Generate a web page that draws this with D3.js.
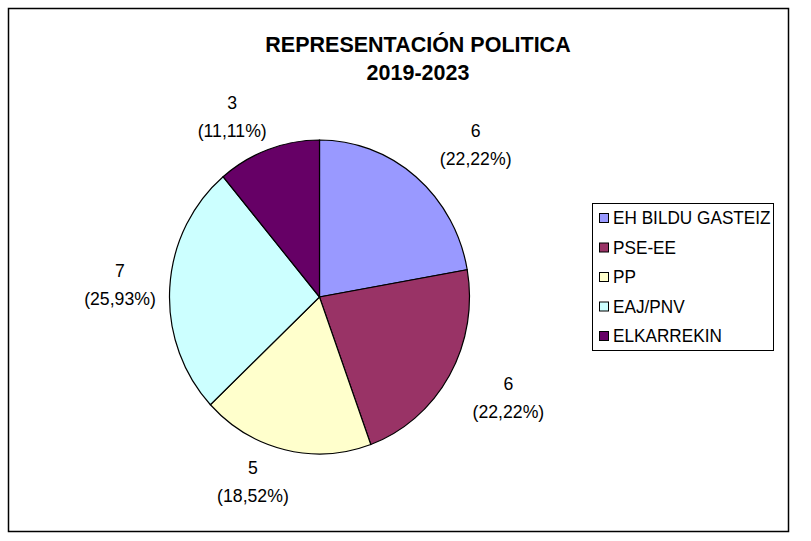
<!DOCTYPE html>
<html lang="es">
<head>
<meta charset="UTF-8">
<title>Representación política</title>
<script src="https://cdn.jsdelivr.net/npm/d3@7"></script>
<style>
  body { margin: 0; background: #fff; }
  text { font-family: "Liberation Sans", Arial, sans-serif; }
</style>
</head>
<body>
<script>
var width = 811;
var height = 541;

// datos
var partidos = ['EH BILDU GASTEIZ', 'PSE-EE', 'PP', 'EAJ/PNV', 'ELKARREKIN'];
var concejales = [6, 6, 5, 7, 3];
var colores = ['#9999FF', '#993366', '#FFFFCC', '#CCFFFF', '#660066'];

var svg = d3.select('body')
    .append('svg')
    .attr('width', width)
    .attr('height', height);

var sx = 150 / 157; // la imagen está algo estrechada en horizontal

// texto estrechado igual que el resto
function texto(sel, x, y, size, bold) {
    return sel.append('text')
        .attr('transform', 'translate(' + x + ',' + y + ') scale(' + sx + ',1)')
        .attr('font-size', size + 'px')
        .attr('font-weight', bold ? 'bold' : 'normal');
}

// marco del gráfico
svg.append('rect')
    .attr('x', 8.5)
    .attr('y', 8.5)
    .attr('width', 780)
    .attr('height', 523)
    .attr('fill', '#fff')
    .attr('stroke', '#000')
    .attr('stroke-width', 1.5);

// título
texto(svg, 418, 52, 22.5, true)
    .attr('text-anchor', 'middle')
    .text('REPRESENTACIÓN POLITICA');
texto(svg, 418, 80, 22.5, true)
    .attr('text-anchor', 'middle')
    .text('2019-2023');

var cx = 319.5, cy = 297;
var radio = 157;

var total = d3.sum(concejales);
var pie = d3.pie().sort(null).value(function(d) { return d; });
var arcos = pie(concejales);
var arc = d3.arc().innerRadius(0).outerRadius(radio);

var g = svg.append('g')
    .attr('transform', 'translate(' + cx + ',' + cy + ') scale(' + sx + ',1)');

g.selectAll('path')
    .data(arcos)
    .enter()
    .append('path')
    .attr('d', arc)
    .attr('fill', function(d, i) { return colores[i]; })
    .attr('stroke', '#000')
    .attr('stroke-width', 1.2)
    .attr('vector-effect', 'non-scaling-stroke');

// etiquetas fuera del sector (radio y pequeños ajustes como en Excel)
var labelR = [212, 215, 200, 205, 212];
var labelDx = [26, 11, -22.5, -4, -18];
var labelDy = [7.5, -9.5, -12.6, -3, 17];
var fmt = function(v) {
    return '(' + (v / total * 100).toFixed(2).replace('.', ',') + '%)';
};
arcos.forEach(function(d, i) {
    var a = (d.startAngle + d.endAngle) / 2;
    var x = cx + Math.sin(a) * labelR[i] * sx + labelDx[i];
    var y = cy - Math.cos(a) * labelR[i] + labelDy[i];
    texto(svg, x, y - 5.5, 18.5, false)
        .attr('text-anchor', 'middle')
        .text(d.value);
    texto(svg, x, y + 22.5, 18.5, false)
        .attr('text-anchor', 'middle')
        .text(fmt(d.value));
});

// leyenda
var leyenda = svg.append('g');
leyenda.append('rect')
    .attr('x', 592.5)
    .attr('y', 203.5)
    .attr('width', 181)
    .attr('height', 147)
    .attr('fill', '#fff')
    .attr('stroke', '#000')
    .attr('stroke-width', 1);
partidos.forEach(function(p, i) {
    var y = 218 + i * 29.5;
    leyenda.append('rect')
        .attr('x', 599.5)
        .attr('y', y - 4.5)
        .attr('width', 9)
        .attr('height', 9)
        .attr('fill', colores[i])
        .attr('stroke', '#000')
        .attr('stroke-width', 1);
    texto(leyenda, 613, y + 6.3, 18, false)
        .text(p);
});
</script>
</body>
</html>
